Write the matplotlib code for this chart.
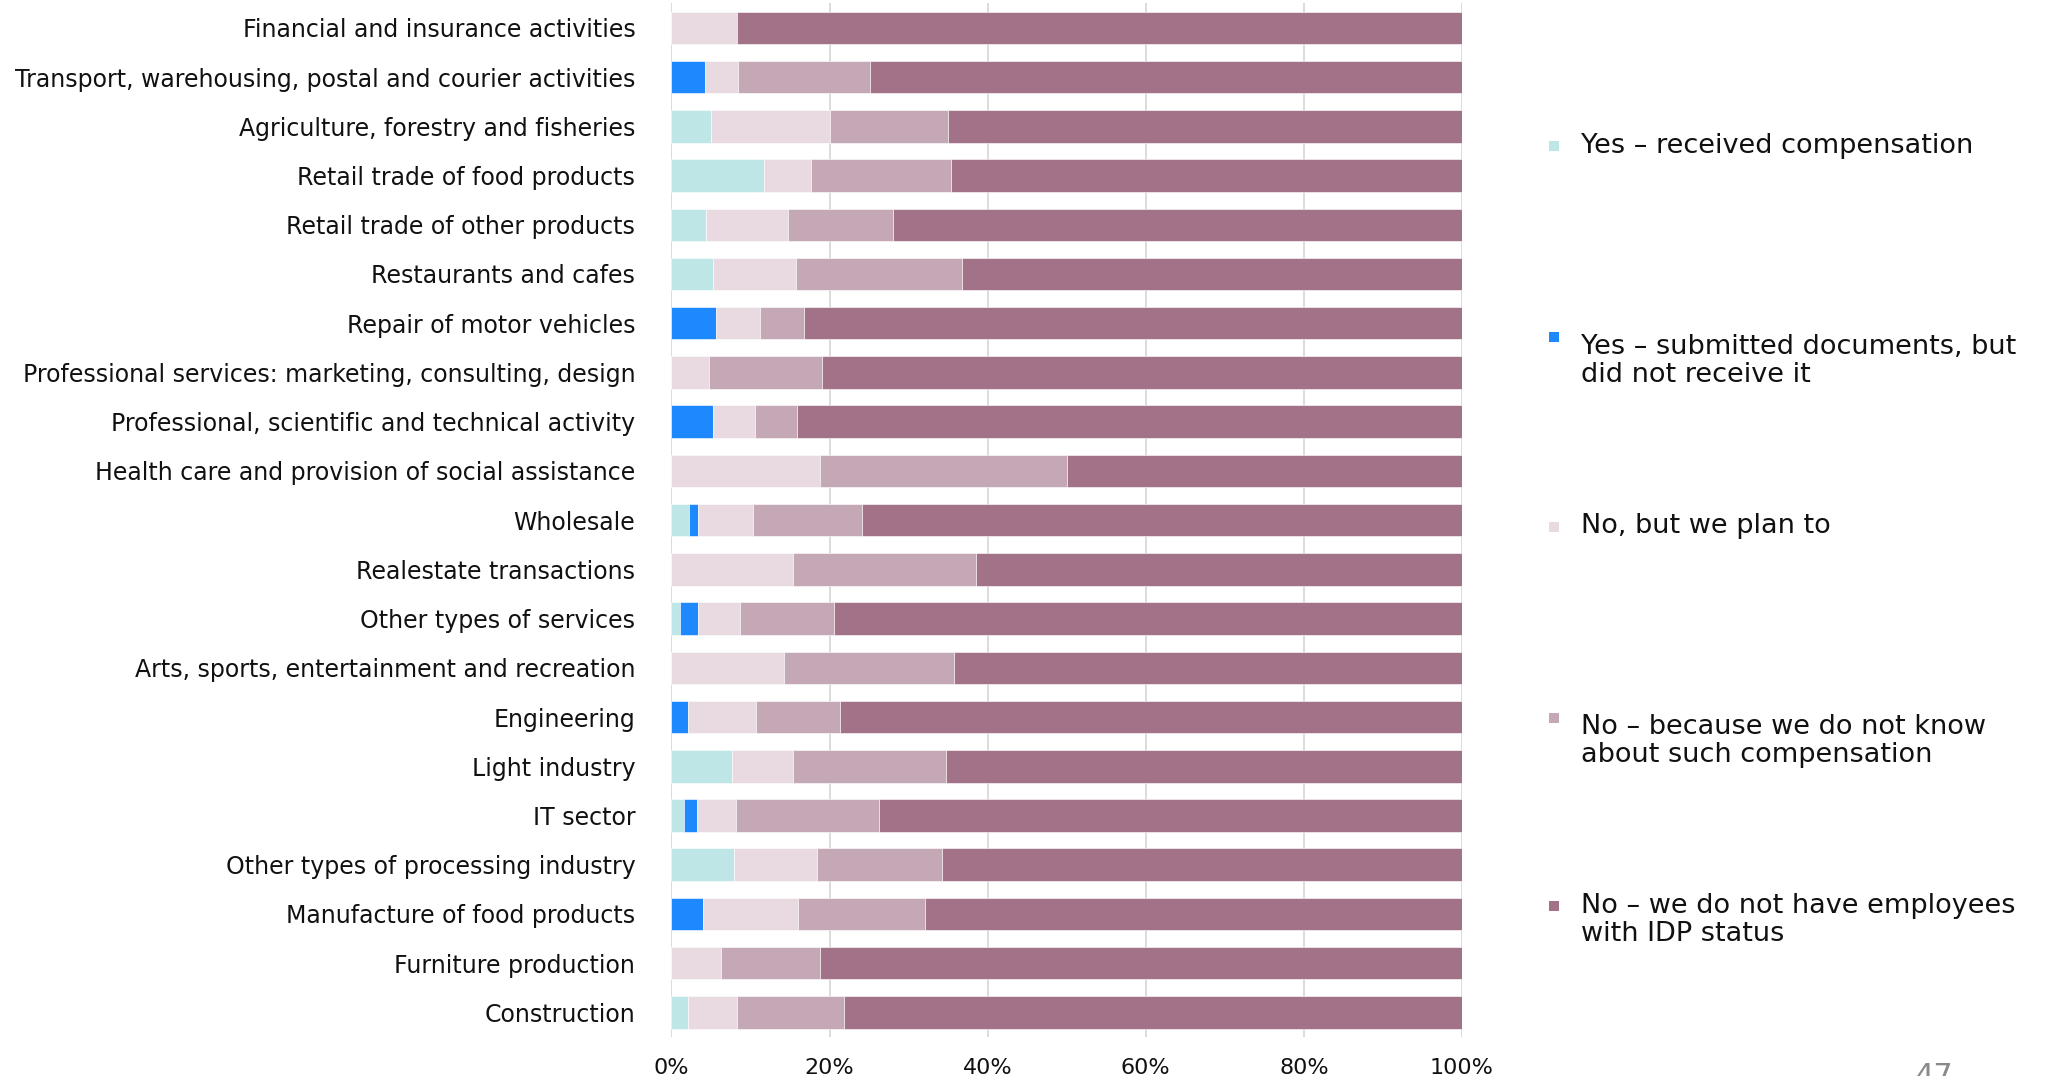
import numpy as np
import matplotlib.pyplot as plt
from matplotlib.patches import Rectangle

plt.rcParams['font.family'] = ['DejaVu Sans']

# sectors, top to bottom
sectors = ['Financial and insurance activities',
           'Transport, warehousing, postal and courier activities',
           'Agriculture, forestry and fisheries',
           'Retail trade of food products',
           'Retail trade of other products',
           'Restaurants and cafes',
           'Repair of motor vehicles',
           'Professional services: marketing, consulting, design',
           'Professional, scientific and technical activity',
           'Health care and provision of social assistance',
           'Wholesale',
           'Realestate transactions',
           'Other types of services',
           'Arts, sports, entertainment and recreation',
           'Engineering',
           'Light industry',
           'IT sector',
           'Other types of processing industry',
           'Manufacture of food products',
           'Furniture production',
           'Construction']

# shares in %
received  = [0, 0, 5.0, 11.7, 4.4, 5.2, 0, 0, 0, 0, 2.2, 0, 1.1, 0, 0, 7.7, 1.6, 7.9, 0, 0, 2.1]
submitted = [0, 4.2, 0, 0, 0, 0, 5.6, 0, 5.3, 0, 1.2, 0, 2.2, 0, 2.1, 0, 1.6, 0, 4.0, 0, 0]
plan_to   = [8.3, 4.2, 15.0, 6.0, 10.3, 10.6, 5.6, 4.8, 5.3, 18.8, 6.9, 15.4, 5.4, 14.3, 8.6, 7.7, 5.0, 10.5, 12.0, 6.3, 6.2]
dont_know = [0, 16.7, 15.0, 17.7, 13.3, 21.0, 5.6, 14.3, 5.3, 31.2, 13.8, 23.1, 11.9, 21.4, 10.6, 19.3, 18.1, 15.8, 16.1, 12.5, 13.5]
no_idp    = [100 - a - b - c - d for a, b, c, d in zip(received, submitted, plan_to, dont_know)]

series = [received, submitted, plan_to, dont_know, no_idp]
labels = ['Yes \u2013 received compensation',
          'Yes \u2013 submitted documents, but\ndid not receive it',
          'No, but we plan to',
          'No \u2013 because we do not know\nabout such compensation',
          'No \u2013 we do not have employees\nwith IDP status']
colors = ['#bfe6e6', '#1e88ff', '#e8dae0', '#c5a8b5', '#a27288']

fig = plt.figure(figsize=(20.47, 10.76), dpi=100)
ax = fig.add_axes([0.328, 0.0362, 0.3862, 0.9608])

y = np.arange(len(sectors))
left = np.zeros(len(sectors))
for vals, col in zip(series, colors):
    vals = np.array(vals)
    ax.barh(y, vals, left=left, height=0.66, color=col, edgecolor='white', linewidth=0.4, zorder=2)
    left += vals

ax.set_ylim(len(sectors) - 0.5, -0.5)
ax.set_xlim(0, 100)
ax.set_yticks(y)
ax.set_yticklabels(sectors, fontsize=17, color='#111111')
ax.set_xticks(np.arange(0, 101, 20))
ax.set_xticklabels([f'{v}%' for v in range(0, 101, 20)], fontsize=16, color='#111111')
ax.tick_params(axis='y', length=0, pad=26)
ax.tick_params(axis='x', length=0, pad=15)
ax.grid(axis='x', color='#d9d9d9', linewidth=1.3, zorder=0)
for s in ax.spines.values():
    s.set_visible(False)

# legend, drawn by hand so the squares sit on the first line
W, H = 2047.0, 1076.0
mark_y = [146, 337, 527, 718, 906]
text_y = [133, 334, 513, 714, 893]
for lab, col, my, ty in zip(labels, colors, mark_y, text_y):
    fig.patches.append(Rectangle((1549 / W, 1 - (my + 5) / H), 10 / W, 10 / H,
                                 transform=fig.transFigure, facecolor=col, edgecolor='none'))
    fig.text(1581 / W, 1 - ty / H, lab, fontsize=19.5, va='top', ha='left',
             color='#111111', linespacing=1.1)

# page number, cut by the bottom edge
fig.text(1915 / W, 1 - 1062 / H, '47', fontsize=22, color='#8a8a8a', va='top', ha='left')

fig.savefig('out.png', dpi=100, facecolor='white')
